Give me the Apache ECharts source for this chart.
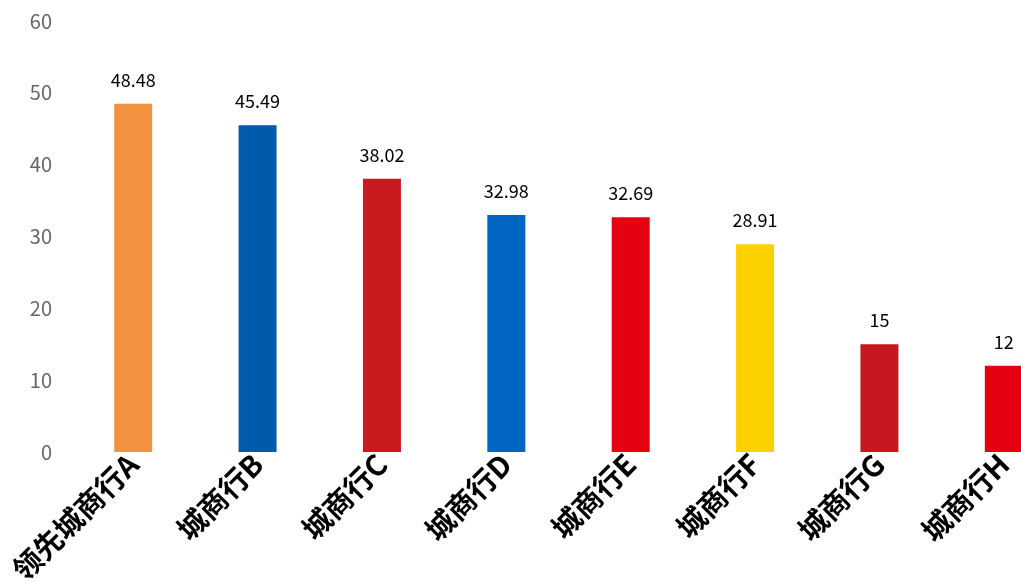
<!DOCTYPE html>
<html>
<head>
<meta charset="utf-8">
<script src="https://cdn.jsdelivr.net/npm/echarts@6/dist/echarts.min.js"></script>
<style>
  html, body { margin: 0; padding: 0; background: #fff; overflow: hidden; }
  /* 图表比窗口宽，最后一根柱子被右边缘裁掉 */
  #chart { width: 1066px; height: 587px; }
</style>
</head>
<body>
<div id="chart"></div>
<script>
// 数据
const categories = ['领先城商行A', '城商行B', '城商行C', '城商行D', '城商行E', '城商行F', '城商行G', '城商行H'];
const values = [48.48, 45.49, 38.02, 32.98, 32.69, 28.91, 15, 12];
const barColors = ['#F2923E', '#005BAC', '#C81A1F', '#0066C1', '#E50012', '#FDD000', '#C8181F', '#E50012'];

const chart = echarts.init(document.getElementById('chart'));

const option = {
  backgroundColor: '#fff',
  animation: false,
  grid: {
    left: 71,
    top: 21,
    right: 0,
    bottom: 135,
    containLabel: false
  },
  xAxis: {
    type: 'category',
    data: categories,
    axisLine: { show: false },
    axisTick: { show: false },
    axisLabel: {
      rotate: 45,
      interval: 0,
      margin: 7,
      color: '#000',
      fontSize: 29,
      fontWeight: 'bold',
      fontFamily: 'Noto Sans CJK SC'
    }
  },
  yAxis: {
    type: 'value',
    min: 0,
    max: 60,
    interval: 10,
    axisLine: { show: false },
    axisTick: { show: false },
    splitLine: { show: false },
    axisLabel: {
      margin: 19,
      color: '#666',
      fontSize: 20,
      fontFamily: 'Noto Sans CJK SC'
    }
  },
  series: [{
    type: 'bar',
    data: values.map((v, i) => ({ value: v, itemStyle: { color: barColors[i] } })),
    barWidth: 38,
    label: {
      show: true,
      position: 'top',
      distance: 15,
      color: '#000',
      fontSize: 18,
      fontFamily: 'Noto Sans CJK SC'
    }
  }]
};

chart.setOption(option);
</script>
</body>
</html>
